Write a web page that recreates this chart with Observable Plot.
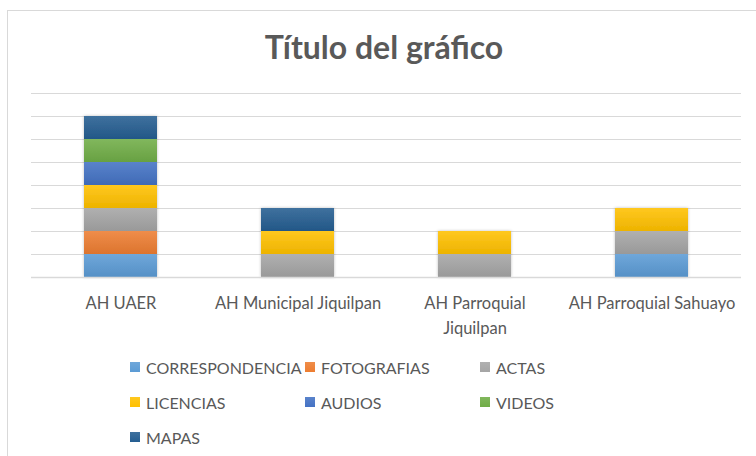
<!DOCTYPE html>
<html>
<head>
<meta charset="utf-8">
<script src="https://cdn.jsdelivr.net/npm/d3@7"></script>
<script src="https://cdn.jsdelivr.net/npm/@observablehq/plot@0.6"></script>
<style>
  html, body { margin: 0; padding: 0; background: #fff; }
  body { width: 756px; height: 456px; overflow: hidden; position: relative; font-family: Lato, "Open Sans", sans-serif; }
  #frame { position: absolute; left: 7px; top: 10px; width: 800px; height: 500px; border: 1px solid #D9D9D9; box-sizing: border-box; }
  #title { position: absolute; left: 6px; top: 0; width: 756px; height: 80px; text-align: center; font-size: 32px; font-weight: bold; color: #595959; line-height: 94px; }
  #chart { position: absolute; left: 0; top: 80px; }
  #legend { position: absolute; left: 130px; top: 354px; display: grid; grid-template-columns: 175px 175px 175px; grid-auto-rows: 35px; font-size: 16px; color: #595959; }
  .item { display: flex; align-items: center; height: 26px; white-space: nowrap; }
  .sw { width: 10px; height: 10px; margin-right: 6px; flex: none; }
</style>
</head>
<body>
<div id="frame"></div>
<div id="title">Título del gráfico</div>
<div id="chart"></div>
<div id="legend"></div>
<script>
const archives = ["AH UAER", "AH Municipal Jiquilpan", "AH Parroquial Jiquilpan", "AH Parroquial Sahuayo"];
const tickLabels = ["AH UAER", "AH Municipal Jiquilpan", "AH Parroquial\nJiquilpan", "AH Parroquial Sahuayo"];
const types = ["CORRESPONDENCIA", "FOTOGRAFIAS", "ACTAS", "LICENCIAS", "AUDIOS", "VIDEOS", "MAPAS"];
const colors = ["#5B9BD5", "#ED7D31", "#A5A5A5", "#FFC000", "#4472C4", "#70AD47", "#255E91"];
const correspondencia = [1, 0, 0, 1];
const fotografias = [1, 0, 0, 0];
const actas = [1, 1, 1, 1];
const licencias = [1, 1, 1, 1];
const audios = [1, 0, 0, 0];
const videos = [1, 0, 0, 0];
const mapas = [1, 1, 0, 0];
const yTicks = [0, 1, 2, 3, 4, 5, 6, 7, 8];

const series = [correspondencia, fotografias, actas, licencias, audios, videos, mapas];
const data = [];
types.forEach((t, i) => {
  archives.forEach((a, j) => {
    if (series[i][j] > 0) data.push({archive: a, type: t, value: series[i][j]});
  });
});

const chart = Plot.plot({
  width: 756,
  height: 260,
  marginLeft: 31,
  marginRight: 15,
  marginTop: 13,
  marginBottom: 63,
  style: {background: "transparent", color: "#595959"},
  x: {domain: archives, paddingInner: 0.59, paddingOuter: 0.295, label: null},
  y: {domain: [0, 8], axis: null},
  color: {domain: types, range: colors},
  marks: [
    Plot.ruleY(yTicks.slice(1), {stroke: "#D9D9D9", strokeWidth: 1.2}),
    Plot.barY(data, {x: "archive", y: "value", fill: "type", order: types}),
    Plot.ruleY([0], {stroke: "#D9D9D9", strokeWidth: 1.6}),
    Plot.axisX({tickSize: 0, tickPadding: 14, fontSize: 16.5, lineHeight: 1.5, fill: "#595959",
      tickFormat: (d) => tickLabels[archives.indexOf(d)], fontFamily: "Lato, sans-serif"})
  ]
});
document.getElementById("chart").appendChild(chart);

// gradient fills (lighter top, darker bottom) as in the original
const svg = d3.select(chart);
const defs = svg.insert("defs", ":first-child");
const filt = defs.append("filter").attr("id", "shadow").attr("x", "-20%").attr("y", "-20%").attr("width", "140%").attr("height", "140%");
filt.append("feDropShadow").attr("dx", 0).attr("dy", 0).attr("stdDeviation", 1.5).attr("flood-color", "#000").attr("flood-opacity", 0.25);
colors.forEach((c, i) => {
  const g = defs.append("linearGradient").attr("id", "grad" + i).attr("x1", 0).attr("y1", 0).attr("x2", 0).attr("y2", 1);
  g.append("stop").attr("offset", "0%").attr("stop-color", d3.interpolateRgb(c, "#fff")(0.12));
  g.append("stop").attr("offset", "100%").attr("stop-color", d3.interpolateRgb(c, "#000")(0.07));
});
svg.selectAll("g[aria-label='bar'] rect").each(function() {
  const f = d3.color(this.getAttribute("fill"));
  if (!f) return;
  const idx = colors.findIndex(c => d3.color(c).formatHex() === f.formatHex());
  if (idx >= 0) this.setAttribute("fill", `url(#grad${idx})`);
});
svg.selectAll("g[aria-label='bar']").attr("filter", "url(#shadow)");

const legend = document.getElementById("legend");
types.forEach((t, i) => {
  const item = document.createElement("div");
  item.className = "item";
  const sw = document.createElement("span");
  sw.className = "sw";
  sw.style.background = `linear-gradient(${d3.interpolateRgb(colors[i], "#fff")(0.12)}, ${colors[i]})`;
  item.appendChild(sw);
  item.appendChild(document.createTextNode(t));
  legend.appendChild(item);
});
</script>
</body>
</html>
